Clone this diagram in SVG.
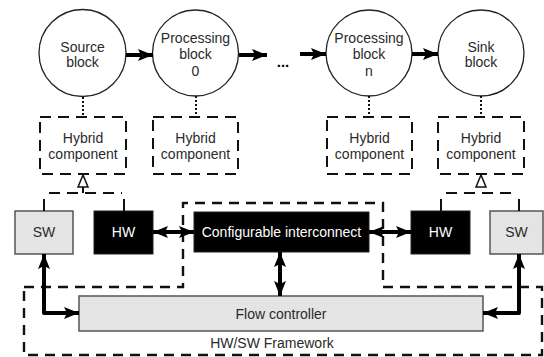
<svg xmlns="http://www.w3.org/2000/svg" width="544" height="357" viewBox="0 0 544 357">
  <style>
    text { font-family: "Liberation Sans", Arial, sans-serif; font-size: 14px; fill: #2a2a2a; text-anchor: middle; }
    .block { fill: #fff; stroke: #222; stroke-width: 1.3; }
    .hybrid { fill: none; stroke: #111; stroke-width: 2; stroke-dasharray: 11 7; }
    .region { fill: none; stroke: #111; stroke-width: 2.4; stroke-dasharray: 10 7; }
    .sw { fill: #e4e4e4; stroke: #555; stroke-width: 1.5; }
    .hw { fill: #000; stroke: #222; stroke-width: 1; }
    .hw-text { fill: #fff; }
    .link { fill: none; stroke: #000; stroke-width: 4; stroke-linejoin: round; }
    .flow { fill: none; stroke: #000; stroke-width: 4; }
    .dotted { stroke: #111; stroke-width: 2; stroke-dasharray: 2 2; }
    .assoc { stroke: #111; stroke-width: 2; }
    .inherit { fill: #fff; stroke: #111; stroke-width: 1.5; }
  </style>
  <defs>
    <marker id="head" markerUnits="userSpaceOnUse" markerWidth="16" markerHeight="14" refX="15" refY="7" orient="auto-start-reverse">
      <path d="M0,1 L15,7 L0,13 L3,7 Z" fill="#000"/>
    </marker>
  </defs>

  <!-- HW/SW framework region -->
  <g id="framework">
    <path class="region" d="M24,287 H183 V203 H383 V287 H542 V355 H24 Z"/>
    <text x="272" y="348">HW/SW Framework</text>
  </g>

  <!-- Stream blocks -->
  <g id="source-block">
    <circle class="block" cx="82.5" cy="53" r="43.5"/>
    <text x="82.5" y="52">Source</text>
    <text x="82.5" y="67">block</text>
  </g>
  <g id="processing-block-0">
    <circle class="block" cx="195.5" cy="53" r="43"/>
    <text x="195.5" y="43">Processing</text>
    <text x="195.5" y="59">block</text>
    <text x="195.5" y="76">0</text>
  </g>
  <g id="ellipsis">
    <text x="283" y="67" style="font-size:15px;fill:#000;font-weight:bold">...</text>
  </g>
  <g id="processing-block-n">
    <circle class="block" cx="369" cy="53" r="43"/>
    <text x="369" y="43">Processing</text>
    <text x="369" y="59">block</text>
    <text x="369" y="76">n</text>
  </g>
  <g id="sink-block">
    <circle class="block" cx="481" cy="53" r="43"/>
    <text x="481" y="52">Sink</text>
    <text x="481" y="67">block</text>
  </g>

  <!-- Hybrid components -->
  <g id="hybrid-source">
    <rect class="hybrid" x="40" y="117" width="86" height="57"/>
    <text x="83" y="143">Hybrid</text>
    <text x="83" y="159">component</text>
  </g>
  <g id="hybrid-proc0">
    <rect class="hybrid" x="153" y="117" width="85" height="57"/>
    <text x="195.5" y="143">Hybrid</text>
    <text x="195.5" y="159">component</text>
  </g>
  <g id="hybrid-procn">
    <rect class="hybrid" x="327" y="117" width="85" height="57"/>
    <text x="369.5" y="143">Hybrid</text>
    <text x="369.5" y="159">component</text>
  </g>
  <g id="hybrid-sink">
    <rect class="hybrid" x="438" y="117" width="86" height="57"/>
    <text x="481" y="143">Hybrid</text>
    <text x="481" y="159">component</text>
  </g>

  <!-- Implementations -->
  <g id="sw-left">
    <rect class="sw" x="15" y="211" width="58" height="43"/>
    <text x="44" y="237">SW</text>
  </g>
  <g id="hw-left">
    <rect class="hw" x="94" y="211" width="59" height="43"/>
    <text class="hw-text" x="123.5" y="237">HW</text>
  </g>
  <g id="interconnect">
    <rect class="hw" x="194" y="212" width="175" height="40"/>
    <text class="hw-text" x="281.5" y="237">Configurable interconnect</text>
  </g>
  <g id="hw-right">
    <rect class="hw" x="411" y="211" width="59" height="43"/>
    <text class="hw-text" x="440.5" y="237">HW</text>
  </g>
  <g id="sw-right">
    <rect class="sw" x="490" y="211" width="53" height="43"/>
    <text x="516.5" y="237">SW</text>
  </g>
  <g id="flow-controller">
    <rect class="sw" x="79" y="296" width="404" height="35"/>
    <text x="281" y="319">Flow controller</text>
  </g>

  <!-- Connectors -->
  <g id="connectors">
    <!-- data flow between blocks -->
    <line class="flow" x1="126" y1="55" x2="153" y2="55" marker-end="url(#head)"/>
    <line class="flow" x1="239" y1="55" x2="267" y2="55" marker-end="url(#head)"/>
    <line class="flow" x1="300" y1="54" x2="326" y2="54" marker-end="url(#head)"/>
    <line class="flow" x1="412" y1="54" x2="438" y2="54" marker-end="url(#head)"/>

    <!-- block to hybrid component -->
    <line class="dotted" x1="83" y1="97" x2="83" y2="117"/>
    <line class="dotted" x1="196" y1="96" x2="196" y2="117"/>
    <line class="dotted" x1="369" y1="96" x2="369" y2="117"/>
    <line class="dotted" x1="481" y1="96" x2="481" y2="117"/>

    <!-- generalisation: source hybrid to SW/HW -->
    <polygon class="inherit" points="83,175 78,187 88,187"/>
    <line class="hybrid" x1="83" y1="187" x2="83" y2="193"/>
    <line class="hybrid" x1="46" y1="193" x2="122" y2="193" style="stroke-dashoffset:-3"/>
    <line class="assoc" x1="44" y1="199" x2="44" y2="211"/>
    <line class="assoc" x1="124" y1="199" x2="124" y2="211"/>

    <!-- generalisation: sink hybrid to HW/SW -->
    <polygon class="inherit" points="481,175 476,187 486,187"/>
    <line class="hybrid" x1="443" y1="193" x2="517" y2="193" style="stroke-dashoffset:-3"/>
    <line class="assoc" x1="441" y1="199" x2="441" y2="211"/>
    <line class="assoc" x1="519" y1="199" x2="519" y2="211"/>

    <!-- hardware links -->
    <line class="link" x1="153" y1="232" x2="194" y2="232" marker-start="url(#head)" marker-end="url(#head)"/>
    <line class="link" x1="369" y1="232" x2="411" y2="232" marker-start="url(#head)" marker-end="url(#head)"/>
    <line class="link" x1="280" y1="252" x2="280" y2="296" marker-start="url(#head)" marker-end="url(#head)"/>

    <!-- control links -->
    <polyline class="link" points="44,254 44,313 79,313" marker-start="url(#head)" marker-end="url(#head)"/>
    <polyline class="link" points="519,254 519,313 483,313" marker-start="url(#head)" marker-end="url(#head)"/>
  </g>
</svg>
